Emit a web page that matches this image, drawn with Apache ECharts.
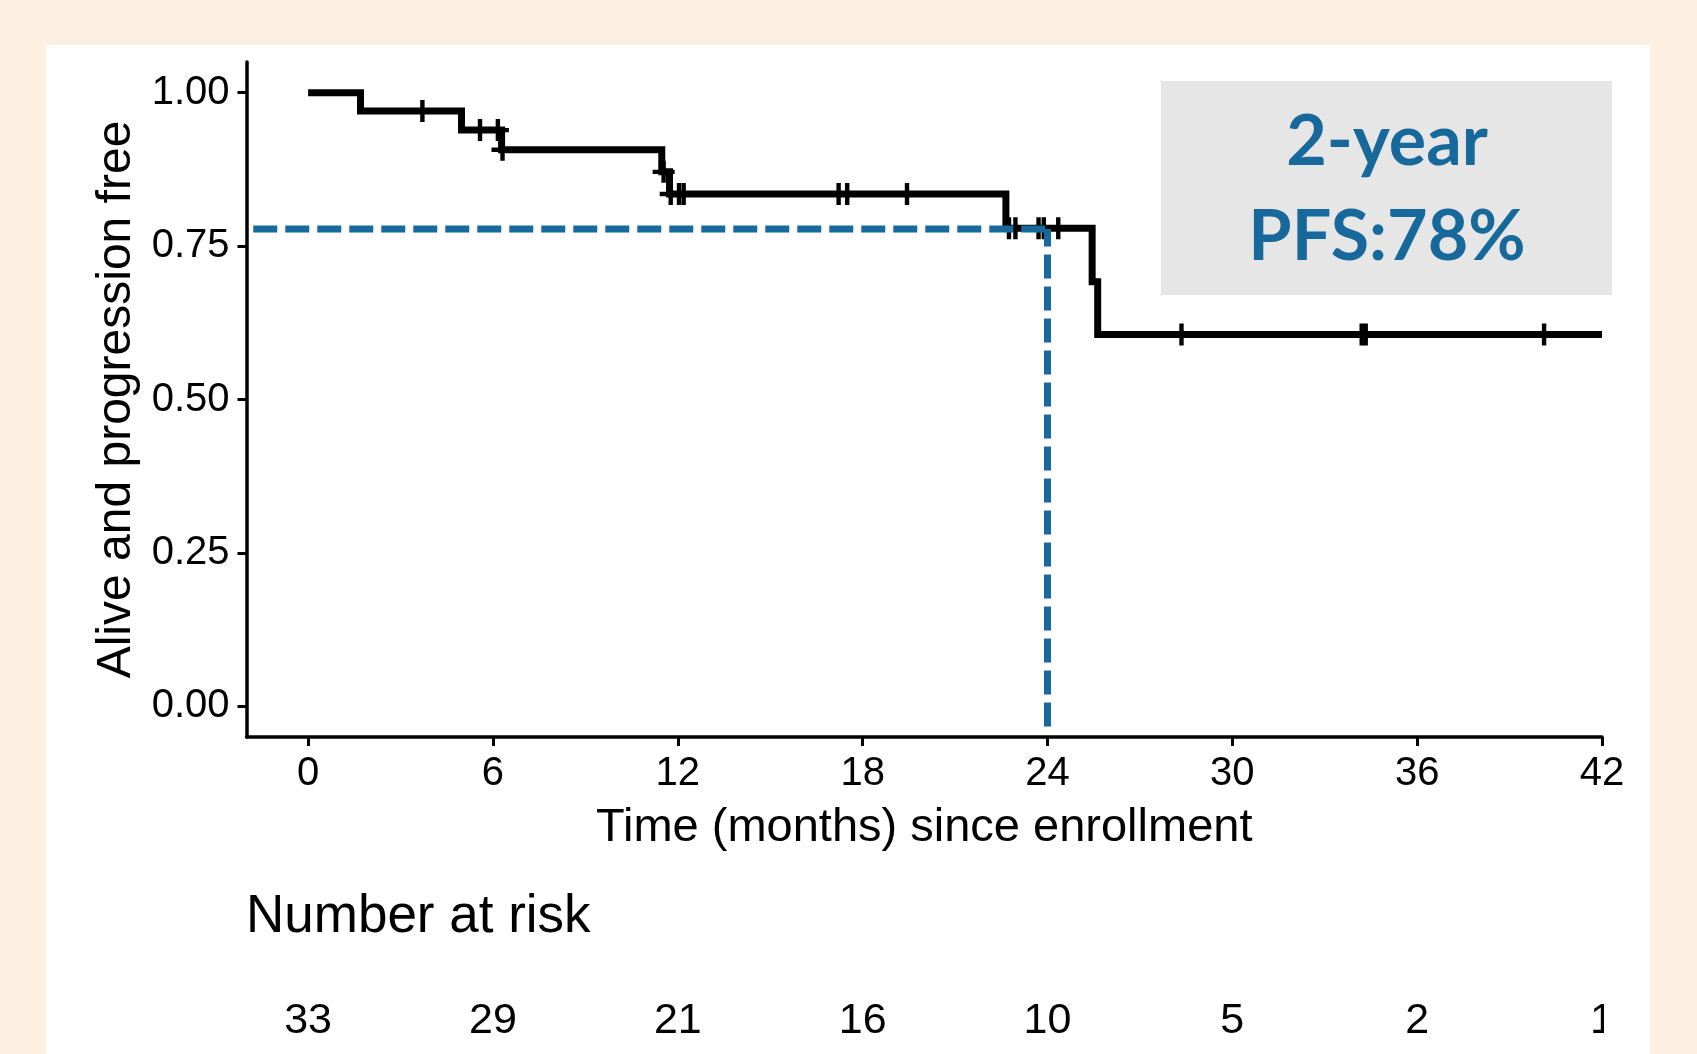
<!DOCTYPE html>
<html>
<head>
<meta charset="utf-8">
<script src="https://cdn.jsdelivr.net/npm/echarts@6/dist/echarts.min.js"></script>
<style>
  html, body { margin: 0; padding: 0; background: #FDF0E1; }
  #chart { width: 1697px; height: 1054px; }
</style>
</head>
<body>
<div id="chart"></div>
<script>
// ---- Data ----
const kmTimes = [0, 1.70, 4.98, 6.28, 11.48, 11.73, 22.65, 25.45, 25.63, 42];
const kmSurv  = [1.000, 0.970, 0.939, 0.907, 0.871, 0.835, 0.779, 0.692, 0.606, 0.606];

const censorTimes = [3.71, 5.58, 6.16, 6.31, 11.54, 11.77, 12.04, 12.19, 17.22, 17.50, 19.44,
                     22.75, 22.96, 23.71, 23.88, 24.35, 28.35, 34.20, 34.33, 40.12];
const censorSurv  = [0.970, 0.939, 0.939, 0.907, 0.871, 0.835, 0.835, 0.835, 0.835, 0.835, 0.835,
                     0.779, 0.779, 0.779, 0.779, 0.779, 0.606, 0.606, 0.606, 0.606];

const xTicks = [0, 6, 12, 18, 24, 30, 36, 42];
const yTicks = [0, 0.25, 0.5, 0.75, 1.0];

const riskTimes  = [0, 6, 12, 18, 24, 30, 36, 42];
const riskCounts = [33, 29, 21, 16, 10, 5, 2, 1];

const landmarkTime = 24;
const landmarkPFS = 0.778;
const refLineStart = -1.78;
const refLineBottom = -0.033;

const boxLine1 = '2-year';
const boxLine2 = 'PFS:78%';

// ---- Chart ----
const FONT = '"Liberation Sans", Arial, Helvetica, sans-serif';
const BLUE = '#17699C';
const chart = echarts.init(document.getElementById('chart'));

const kmData = kmTimes.map((t, i) => [t, kmSurv[i]]);
const censorData = censorTimes.map((t, i) => [t, censorSurv[i]]);
const riskData = riskTimes.map((t, i) => [t, 1, riskCounts[i]]);

const plusPath = 'path://M8,0 H12 V8 H20 V12 H12 V20 H8 V12 H0 V8 H8 Z';

chart.setOption({
  animation: false,
  backgroundColor: '#FDF0E1',
  title: {
    text: 'Number at risk',
    left: 246,
    top: 891,
    padding: 0,
    textStyle: { fontFamily: FONT, fontSize: 53, fontWeight: 'normal', color: '#000' }
  },
  graphic: [
    { type: 'rect', z: -100, silent: true,
      shape: { x: 46, y: 45, width: 1604, height: 1020 },
      style: { fill: '#FFFFFF' } },
    { type: 'rect', z: 1, silent: true,
      shape: { x: 1161, y: 81, width: 451, height: 214 },
      style: { fill: '#E6E6E6' } },
    { type: 'text', z: 2, silent: true, x: 1387, y: 142,
      style: { text: boxLine1, fill: BLUE, font: 'bold 70px Lato, "Open Sans", sans-serif',
               textAlign: 'center', textVerticalAlign: 'middle' } },
    { type: 'text', z: 2, silent: true, x: 1387, y: 237,
      style: { text: boxLine2, fill: BLUE, font: 'bold 70px Lato, "Open Sans", sans-serif',
               textAlign: 'center', textVerticalAlign: 'middle' } },
    // the risk table is cropped at the right edge in the reference
    { type: 'rect', z: 200, silent: true,
      shape: { x: 1604, y: 985, width: 46, height: 65 },
      style: { fill: '#FFFFFF' } }
  ],
  grid: [
    { left: 246.5, right: 95, top: 62, bottom: 317, containLabel: false },
    { left: 246.5, right: 95, top: 994, bottom: 5, containLabel: false }
  ],
  xAxis: [
    {
      type: 'value', gridIndex: 0, min: -2, max: 42,
      axisLine: { show: true, onZero: false, lineStyle: { color: '#000', width: 3.5 } },
      axisTick: { show: true, customValues: xTicks, length: 9, lineStyle: { color: '#000', width: 3 } },
      axisLabel: { customValues: xTicks, fontFamily: FONT, fontSize: 40, color: '#000', margin: 17 },
      splitLine: { show: false },
      name: 'Time (months) since enrollment',
      nameLocation: 'middle', nameGap: 68,
      nameTextStyle: { fontFamily: FONT, fontSize: 47, color: '#000' }
    },
    { type: 'value', gridIndex: 1, min: -2, max: 42, show: false }
  ],
  yAxis: [
    {
      type: 'value', gridIndex: 0, min: -0.05, max: 1.05,
      axisLine: { show: true, onZero: false, lineStyle: { color: '#000', width: 3.5 } },
      axisTick: { show: true, customValues: yTicks, length: 9, lineStyle: { color: '#000', width: 3 } },
      axisLabel: { customValues: yTicks, fontFamily: FONT, fontSize: 40, color: '#000', margin: 17,
                   formatter: v => v.toFixed(2) },
      splitLine: { show: false },
      name: 'Alive and progression free',
      nameLocation: 'middle', nameGap: 105,
      nameTextStyle: { fontFamily: FONT, fontSize: 48, color: '#000' }
    },
    { type: 'value', gridIndex: 1, min: 0, max: 2, show: false }
  ],
  series: [
    {
      type: 'line', xAxisIndex: 0, yAxisIndex: 0,
      data: [[refLineStart, landmarkPFS], [landmarkTime, landmarkPFS]],
      symbol: 'none', z: 4,
      lineStyle: { color: BLUE, width: 7, type: [24, 8], cap: 'butt' }
    },
    {
      type: 'line', xAxisIndex: 0, yAxisIndex: 0,
      data: [[landmarkTime, refLineBottom], [landmarkTime, landmarkPFS]],
      symbol: 'none', z: 4,
      lineStyle: { color: BLUE, width: 7, type: [24, 8], cap: 'butt' }
    },
    {
      type: 'line', xAxisIndex: 0, yAxisIndex: 0,
      data: kmData, step: 'end', symbol: 'none', z: 3,
      lineStyle: { color: '#000', width: 7, join: 'miter' }
    },
    {
      type: 'scatter', xAxisIndex: 0, yAxisIndex: 0,
      data: censorData, symbol: plusPath, symbolSize: 22, z: 3,
      itemStyle: { color: '#000', opacity: 1 }
    },
    {
      type: 'scatter', xAxisIndex: 1, yAxisIndex: 1,
      data: riskData, symbolSize: 1, z: 5,
      itemStyle: { color: '#FFFFFF' },
      label: { show: true, position: 'inside', formatter: p => String(p.value[2]),
               fontFamily: FONT, fontSize: 43, color: '#000',
               textBorderWidth: 0, textBorderColor: 'transparent', opacity: 1 }
    }
  ]
});
</script>
</body>
</html>
